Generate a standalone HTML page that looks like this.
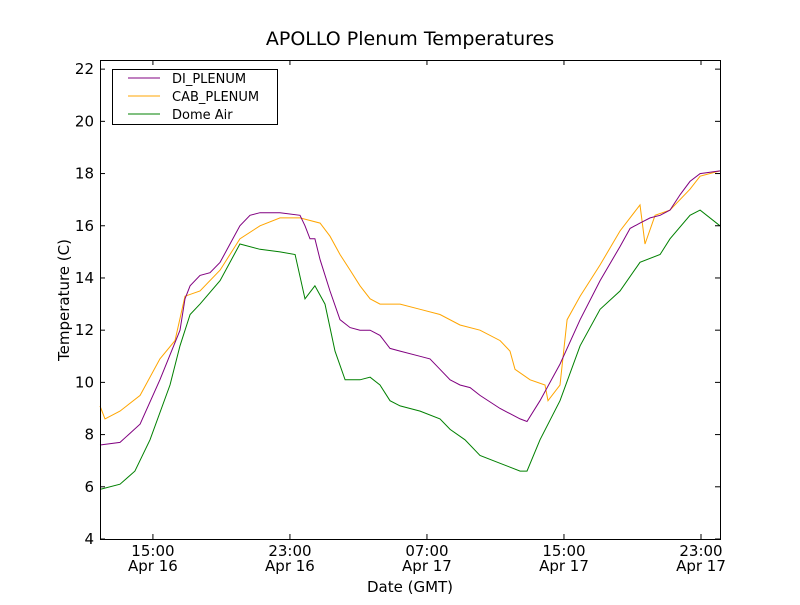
<!DOCTYPE html>
<html><head><meta charset="utf-8"><style>
body{margin:0;background:#fff;}
svg text{font-family:"DejaVu Sans","Liberation Sans",sans-serif;}
</style></head><body>
<svg id="chart" width="800" height="600">
<rect width="800" height="600" fill="#fff"/>
<text x="410" y="45" text-anchor="middle" font-size="19">APOLLO Plenum Temperatures</text>
<g id="plot"></g>
<g id="axes"></g>
<text x="410" y="592" text-anchor="middle" font-size="15">Date (GMT)</text>
<text transform="translate(69,300) rotate(-90)" text-anchor="middle" font-size="15">Temperature (C)</text>
<g>
<rect x="112.5" y="69.5" width="165" height="55" fill="#fff" stroke="#000"/>
<line x1="128" y1="78" x2="160" y2="78" stroke="purple"/>
<text x="172" y="83" font-size="13">DI_PLENUM</text>
<line x1="128" y1="96" x2="160" y2="96" stroke="orange"/>
<text x="172" y="101" font-size="13">CAB_PLENUM</text>
<line x1="128" y1="114" x2="160" y2="114" stroke="green"/>
<text x="172" y="119" font-size="13">Dome Air</text>
</g>
</svg>
<script>
// hours since Apr16 00:00 GMT
const diTimes=[11.91,13.08,14.25,15.41,16.58,16.87,17.17,17.75,18.33,18.92,19.50,20.08,20.67,21.25,22.42,23.59,23.88,24.17,24.46,24.76,25.34,25.92,26.51,27.09,27.68,28.26,28.84,29.43,30.60,31.18,31.76,32.35,32.93,33.52,34.10,35.27,36.44,36.84,37.60,38.77,39.94,41.11,42.27,42.86,43.44,44.03,44.61,45.19,45.79,46.36,46.95,48.11];
const diValues=[7.6,7.7,8.4,10.1,12.0,13.2,13.7,14.1,14.2,14.6,15.3,16.0,16.4,16.5,16.5,16.4,16.0,15.5,15.5,14.7,13.5,12.4,12.1,12.0,12.0,11.8,11.3,11.2,11.0,10.9,10.5,10.1,9.9,9.8,9.5,9.0,8.6,8.5,9.3,10.7,12.4,13.9,15.2,15.9,16.1,16.3,16.4,16.6,17.2,17.7,18.0,18.1];
const cabTimes=[11.91,12.20,13.08,14.25,15.41,16.29,16.87,17.75,18.92,20.08,21.25,22.42,23.59,24.76,25.34,25.92,26.51,27.09,27.68,28.26,29.43,30.60,31.76,32.93,34.10,35.27,35.85,36.14,37.02,37.89,38.07,38.77,39.18,39.94,41.11,42.27,43.44,43.73,44.32,45.19,46.36,46.95,48.11];
const cabValues=[9.1,8.6,8.9,9.5,10.9,11.6,13.3,13.5,14.3,15.5,16.0,16.3,16.3,16.1,15.6,14.9,14.3,13.7,13.2,13.0,13.0,12.8,12.6,12.2,12.0,11.6,11.2,10.5,10.1,9.9,9.3,9.9,12.4,13.3,14.5,15.8,16.8,15.3,16.4,16.6,17.4,17.9,18.1];
const domeTimes=[11.91,13.08,13.95,14.83,16.00,16.58,17.17,17.75,18.92,20.08,21.25,22.42,23.30,23.88,24.46,25.05,25.63,26.22,27.09,27.68,28.26,28.84,29.43,30.60,31.76,32.35,33.22,34.10,35.27,36.44,36.84,37.60,38.77,39.94,41.11,42.27,43.44,44.61,45.19,46.36,46.95,48.11];
const domeValues=[5.9,6.1,6.6,7.8,9.9,11.4,12.6,13.0,13.9,15.3,15.1,15.0,14.9,13.2,13.7,13.0,11.2,10.1,10.1,10.2,9.9,9.3,9.1,8.9,8.6,8.2,7.8,7.2,6.9,6.6,6.6,7.8,9.3,11.4,12.8,13.5,14.6,14.9,15.5,16.4,16.6,16.0];
const yTicks=[4,6,8,10,12,14,16,18,20,22];
const xTickHours=[15,23,31,39,47];
const xTickTimes=["15:00","23:00","07:00","15:00","23:00"];
const xTickDates=["Apr 16","Apr 16","Apr 17","Apr 17","Apr 17"];

const L=100,R=720,T=60,B=539;
const xMin=11.91,xMax=48.11,yMin=4,yMax=22.35;
const sx=h=>L+(h-xMin)/(xMax-xMin)*(R-L);
const sy=v=>B-(v-yMin)/(yMax-yMin)*(B-T);
const NS="http://www.w3.org/2000/svg";
const plot=document.getElementById('plot'),axes=document.getElementById('axes');
function mk(tag,attrs,parent){const e=document.createElementNS(NS,tag);for(const k in attrs)e.setAttribute(k,attrs[k]);parent.appendChild(e);return e;}
function line(ts,vs,color,name){
  const d=ts.map((t,i)=>(i?'L':'M')+sx(t).toFixed(1)+','+sy(vs[i]).toFixed(1)).join('');
  const p=mk('path',{d:d,fill:'none',stroke:color,'stroke-width':1},plot);
  
  
}
line(cabTimes,cabValues,'orange','cab-plenum-line');
line(diTimes,diValues,'purple','di-plenum-line');
line(domeTimes,domeValues,'green','dome-air-line');
const fr=mk('rect',{x:L+0.5,y:T+0.5,width:R-L,height:B-T,fill:'none',stroke:'#000'},axes);


yTicks.forEach(v=>{
  const y=sy(v);
  mk('line',{x1:L,y1:y,x2:L+5,y2:y,stroke:'#000'},axes);
  mk('line',{x1:R,y1:y,x2:R-5,y2:y,stroke:'#000'},axes);
  const t=mk('text',{x:L-6,y:y+5,'text-anchor':'end','font-size':15},axes);
  t.textContent=v;
  
  
});
xTickHours.forEach((h,i)=>{
  const x=sx(h);
  mk('line',{x1:x,y1:B,x2:x,y2:B-5,stroke:'#000'},axes);
  mk('line',{x1:x,y1:T,x2:x,y2:T+5,stroke:'#000'},axes);
  const t=mk('text',{x:x,y:B+17,'text-anchor':'middle','font-size':15},axes);
  t.textContent=xTickTimes[i];
  
  
  const d=mk('text',{x:x,y:B+32,'text-anchor':'middle','font-size':15},axes);
  d.textContent=xTickDates[i];
  
  
});
</script>
</body></html>
